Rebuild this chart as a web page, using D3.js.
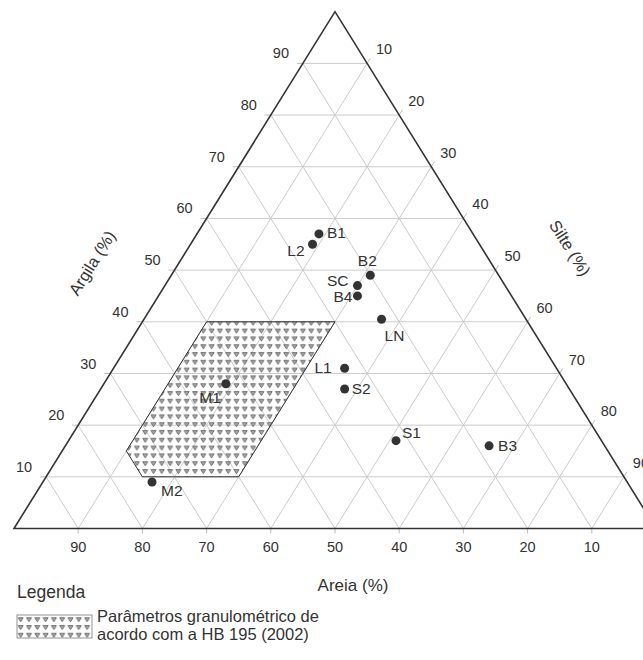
<!DOCTYPE html>
<html>
<head>
<meta charset="utf-8">
<script src="https://cdn.jsdelivr.net/npm/d3@7"></script>
<style>
  body { margin: 0; background: #fff; }
  text { font-family: "Liberation Sans", Arial, sans-serif; fill: #333; }
</style>
</head>
<body>
<div id="chart"></div>
<script>
// samples: clay (argila), silt (silte), sand (areia) in %
var names = ["B1", "L2", "B2", "SC", "B4", "LN", "L1", "S2", "S1", "B3", "M1", "M2"];
var argila = [57, 55, 49, 47, 45, 40.5, 31, 27, 17, 16, 28, 9];
var silte  = [19, 19, 31, 30, 31, 37, 36, 38, 51, 66, 19, 17];
// label placement relative to the dot
var labelDx = [8, -8, -3, -9, -5, 3, -13, 7, 6, 9, -5, 9];
var labelDy = [4, 12, -9, 0, 6, 22, 5, 5, -3, 5, 19, 14];
var labelAnchor = ["start", "end", "middle", "end", "end", "start", "end", "start", "start", "start", "end", "start"];

// HB 195 (2002) zone, [argila, silte]
var zona = [[40, 10], [40, 30], [10, 30], [10, 15], [15, 10]];

var ticks = [10, 20, 30, 40, 50, 60, 70, 80, 90];

var width = 643, height = 660;

var svg = d3.select("#chart")
  .append("svg")
    .attr("width", width)
    .attr("height", height);

// scales: argila -> y, (silte + argila/2) -> x
var y = d3.scaleLinear().domain([0, 100]).range([528.5, 11.7]);
var x = d3.scaleLinear().domain([0, 100]).range([14, 656]);

function proj(cl, si) {
  return [x(si + cl / 2), y(cl)];
}

var line = d3.line();

// pattern for the zone
var defs = svg.append("defs");
var pat = defs.append("pattern")
  .attr("id", "tri")
  .attr("patternUnits", "userSpaceOnUse")
  .attr("width", 8.3)
  .attr("height", 7.8);
pat.append("path")
  .attr("d", "M1.6,1.6 L6.6,1.6 L4.1,5.6 Z")
  .style("fill", "#aaa")
  .style("stroke", "#555")
  .style("stroke-width", 0.8);

var g = svg.append("g");

// grid
ticks.forEach(function(v) {
  // argila constant (horizontal)
  g.append("path")
    .attr("d", line([proj(v, 0), proj(v, 100 - v)]))
    .style("stroke", "#cbcbcb").style("fill", "none");
  // areia constant
  g.append("path")
    .attr("d", line([proj(0, 100 - v), proj(100 - v, 0)]))
    .style("stroke", "#cbcbcb").style("fill", "none");
  // silte constant
  g.append("path")
    .attr("d", line([proj(0, v), proj(100 - v, v)]))
    .style("stroke", "#cbcbcb").style("fill", "none");
});

// ticks outside
var dirR = [321, -516.8], len = Math.sqrt(321 * 321 + 516.8 * 516.8);
ticks.forEach(function(v) {
  var p = proj(v, 0);
  g.append("path").attr("d", line([p, [p[0] - 6, p[1]]]))
    .style("stroke", "#bbb");
  var q = proj(0, 100 - v);
  g.append("path").attr("d", line([q, [q[0], q[1] + 5]]))
    .style("stroke", "#bbb");
  var r = proj(100 - v, v);
  g.append("path").attr("d", line([r, [r[0] + 6 * dirR[0] / len, r[1] + 6 * dirR[1] / len]]))
    .style("stroke", "#bbb");
});

// zone
g.append("path")
  .attr("d", line(zona.map(function(d) { return proj(d[0], d[1]); })) + "Z")
  .style("fill", "url(#tri)")
  .style("stroke", "#333")
  .style("stroke-width", 1);

// triangle frame
g.append("path")
  .attr("d", line([proj(0, 0), proj(0, 100), proj(100, 0)]) + "Z")
  .style("fill", "none")
  .style("stroke", "#333")
  .style("stroke-width", 1.6);

// tick labels
ticks.forEach(function(v) {
  var p = proj(v, 0);
  g.append("text").attr("x", p[0] - 22).attr("y", p[1] - 10)
    .attr("text-anchor", "middle").attr("dy", "0.35em")
    .style("font-size", "14.5px").text(v);
  var q = proj(0, 100 - v);
  g.append("text").attr("x", q[0]).attr("y", q[1] + 23)
    .attr("text-anchor", "middle")
    .style("font-size", "14.5px").text(v);
  var r = proj(100 - v, v);
  g.append("text").attr("x", r[0] + 17).attr("y", r[1] - 14)
    .attr("text-anchor", "middle").attr("dy", "0.35em")
    .style("font-size", "14.5px").text(v);
});

// axis titles
g.append("text")
  .attr("transform", "translate(92,263) rotate(-58)")
  .attr("text-anchor", "middle").attr("dy", "0.35em")
  .style("font-size", "16.5px").text("Argila (%)");
g.append("text")
  .attr("transform", "translate(570,248) rotate(58)")
  .attr("text-anchor", "middle").attr("dy", "0.35em")
  .style("font-size", "16.5px").text("Silte (%)");
g.append("text")
  .attr("x", 353).attr("y", 591)
  .attr("text-anchor", "middle")
  .style("font-size", "17px").text("Areia (%)");

// points
names.forEach(function(n, i) {
  var p = proj(argila[i], silte[i]);
  g.append("circle")
    .attr("cx", p[0]).attr("cy", p[1]).attr("r", 4.5)
    .style("fill", "#333");
  g.append("text")
    .attr("x", p[0] + labelDx[i]).attr("y", p[1] + labelDy[i])
    .attr("text-anchor", labelAnchor[i])
    .style("font-size", "15.5px").text(n);
});

// legend
svg.append("text").attr("x", 17).attr("y", 598)
  .style("font-size", "17.5px").text("Legenda");
svg.append("rect")
  .attr("x", 17).attr("y", 615).attr("width", 75).attr("height", 23)
  .style("fill", "url(#tri)").style("stroke", "#666").style("stroke-width", 0.7);
svg.append("text").attr("x", 97).attr("y", 622)
  .style("font-size", "16.5px").text("Parâmetros granulométrico de");
svg.append("text").attr("x", 97).attr("y", 640)
  .style("font-size", "16.5px").text("acordo com a HB 195 (2002)");
</script>
</body>
</html>
